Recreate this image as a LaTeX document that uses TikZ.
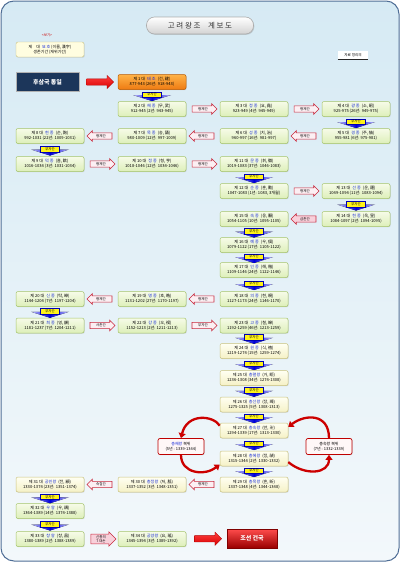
\documentclass[tikz,border=0pt]{standalone}
\usepackage{fontspec}
\setmainfont{Noto Sans CJK KR}
\usetikzlibrary{shapes.arrows,arrows.meta,shadows,calc}
\definecolor{kb}{HTML}{1A2ED8}
\definecolor{gT}{HTML}{F6FBE8}
\definecolor{gB}{HTML}{DDEFB9}
\definecolor{gD}{HTML}{A5C46A}
\definecolor{yT}{HTML}{FFFFF2}
\definecolor{yB}{HTML}{F5F1C6}
\definecolor{yD}{HTML}{C9C27E}
\definecolor{oT}{HTML}{FFB347}
\definecolor{oB}{HTML}{EE7A12}
\definecolor{oD}{HTML}{B85A00}
\definecolor{bgT}{HTML}{D6EAF4}
\definecolor{bgB}{HTML}{F3F8FB}
\definecolor{frm}{HTML}{4F6E96}
\definecolor{relD}{HTML}{C8283C}
\definecolor{relF}{HTML}{FCEFF3}
\definecolor{relP}{HTML}{F8D0DA}
\definecolor{navy}{HTML}{1C365A}
\tikzset{
  kbase/.style={rectangle, rounded corners=2pt, minimum width=68pt, minimum height=15pt, inner sep=0pt, align=center, font=\fontsize{4.1}{5}\selectfont, line width=0.5pt, drop shadow={shadow xshift=0.7pt, shadow yshift=-0.7pt, opacity=0.25}},
  gbox/.style={kbase, draw=gD, top color=gT, bottom color=gB},
  ybox/.style={kbase, draw=yD, top color=yT, bottom color=yB},
  obox/.style={kbase, draw=oD, top color=oT, bottom color=oB},
  relR/.style={single arrow, draw=relD, fill=relF, line width=0.6pt, minimum height=25pt, single arrow head extend=2.2pt, inner xsep=1pt, inner ysep=1.2pt, font=\fontsize{3.5}{4}\selectfont, align=center},
  relL/.style={relR, shape border rotate=180},
  bzlab/.style={rectangle, draw=blue!70!black, line width=0.3pt, fill=yellow!90!white, minimum width=19pt, minimum height=5.5pt, inner sep=0pt, font=\fontsize{3.4}{4}\selectfont},
  bzfill/.style={left color=blue!25, right color=blue!25, middle color=blue!85!black},
  curv/.style={draw=red!80!black, line width=2.3pt, -{Triangle[length=5pt,width=7pt]}},
  bokwi/.style={rectangle, rounded corners=2pt, draw=red!75!black, line width=0.7pt, fill=red!3, minimum width=46pt, minimum height=16pt, inner sep=0pt, align=center, font=\fontsize{4}{5}\selectfont, drop shadow={shadow xshift=0.7pt, shadow yshift=-0.7pt, opacity=0.25}},
  bigarr/.style={single arrow, top color=red!75, bottom color=red!85!black, draw=red!70!black, line width=0.3pt, minimum height=27pt, single arrow head extend=3.5pt, inner sep=3pt}
}
\newcommand\kg[8]{\node[#1] (#2) at (#3,#4) {제 #5 대\enspace{\color{kb}#6}\enspace(#7)\\#8};}
\newcommand\bzg[3]{%
  \coordinate (#1c) at ($(#2.south)!.5!(#3.north)$);
  \fill[bzfill] ([shift={(-19,-0.5)}]#1c) -- ([shift={(19,-0.5)}]#1c) -- ([shift={(0,5.5)}]#1c) -- cycle;
  \node[bzlab] (#1) at ([shift={(0,-1)}]#1c) {부자간};}
\newcommand\rel[5]{\node[#1] (#2) at ($(#3.east)!.5!(#4.west)$) {#5};}
\newcommand\rell[5]{\node[#1] (#2) at ($(#3.west)!.5!(#4.east)$) {#5};}
\begin{document}
\begin{tikzpicture}[x=1pt,y=-1pt]
\useasboundingbox (0,0) rectangle (400,562);
\draw[draw=frm, line width=1pt, rounded corners=13pt, top color=bgT, bottom color=bgB] (1,1) rectangle (399,561);
% title
\node[rectangle, rounded corners=8pt, minimum width=107pt, minimum height=17pt, top color=white, bottom color=gray!35, draw=gray!65, line width=0.6pt, font=\fontsize{7.5}{8}\selectfont, text=black!80, drop shadow={shadow xshift=0.8pt, shadow yshift=-0.8pt, opacity=0.3}] (title) at (200,25.5) {고 려 왕 조\quad 계 보 도};
% legend
\node[font=\fontsize{3.5}{4}\selectfont, text=red!80!black] (bogi) at (47,35.5) {<보기>};
\node[rectangle, rounded corners=2pt, minimum width=68pt, minimum height=15pt, inner sep=0pt, align=center, font=\fontsize{4}{5}\selectfont, draw=yD, fill=yellow!12, drop shadow={shadow xshift=0.7pt, shadow yshift=-0.7pt, opacity=0.25}] (legend) at (50,49.5) {제\quad 대\enspace{\color{kb}묘 호} (이름, 漢字)\\생존기간 (재위기간)};
\node[font=\fontsize{3.6}{4}\selectfont, fill=white, minimum width=30pt, minimum height=9pt, inner sep=0pt] (note) at (353,55) {자료 정리의};
\draw[line width=1.2pt, black!85] (note.south west) -- (note.south east);
% unification
\node[rectangle, fill=navy, draw=gray!60, line width=0.8pt, minimum width=63pt, minimum height=19pt, text=white, font=\bfseries\fontsize{6}{7}\selectfont, drop shadow={shadow xshift=0.8pt, shadow yshift=-0.8pt, opacity=0.3}] (hs) at (47.5,82) {후삼국 통일};
\kg{obox}{k1}{152}{82}{1}{태 조}{건, 建}{877-943 (26년: 918-943)}
\node[bigarr] (a1) at ($(hs.east)!.5!(k1.west)$) {};
% kings
\kg{gbox}{k2}{152}{109}{2}{혜 종}{무, 武}{912-945 (2년: 943-945)}
\kg{gbox}{k3}{254}{109}{3}{정 종}{요, 堯}{923-949 (4년: 945-949)}
\kg{gbox}{k4}{356}{109}{4}{광 종}{소, 昭}{925-975 (26년: 949-975)}
\kg{gbox}{k5}{356}{136}{5}{경 종}{주, 伷}{955-981 (6년: 975-981)}
\kg{gbox}{k6}{254}{136}{6}{성 종}{치, 治}{960-997 (16년: 981-997)}
\kg{gbox}{k7}{152}{136}{7}{목 종}{송, 誦}{980-1009 (12년: 997-1009)}
\kg{gbox}{k8}{50}{136}{8}{현 종}{순, 詢}{992-1031 (22년: 1009-1031)}
\kg{gbox}{k9}{50}{164}{9}{덕 종}{흠, 欽}{1016-1034 (3년: 1031-1034)}
\kg{gbox}{k10}{152}{164}{10}{정 종}{형, 亨}{1018-1046 (12년: 1034-1046)}
\kg{gbox}{k11}{254}{164}{11}{문 종}{휘, 徽}{1019-1083 (37년: 1046-1083)}
\kg{gbox}{k12}{254}{191}{12}{순 종}{훈, 勳}{1047-1083 (1년: 1083, 3개월)}
\kg{gbox}{k13}{356}{191}{13}{선 종}{운, 運}{1049-1094 (11년: 1083-1094)}
\kg{gbox}{k14}{356}{219}{14}{헌 종}{욱, 昱}{1084-1097 (2년: 1094-1095)}
\kg{gbox}{k15}{254}{219}{15}{숙 종}{옹, 顒}{1054-1105 (10년: 1095-1105)}
\kg{gbox}{k16}{254}{245}{16}{예 종}{우, 俁}{1079-1122 (17년: 1105-1122)}
\kg{gbox}{k17}{254}{270}{17}{인 종}{해, 楷}{1109-1146 (24년: 1122-1146)}
\kg{gbox}{k18}{254}{299}{18}{의 종}{현, 晛}{1127-1173 (24년: 1146-1170)}
\kg{gbox}{k19}{152}{299}{19}{명 종}{호, 晧}{1131-1202 (27년: 1170-1197)}
\kg{gbox}{k20}{50}{299}{20}{신 종}{탁, 晫}{1144-1204 (7년: 1197-1204)}
\kg{gbox}{k21}{50}{325.5}{21}{희 종}{영, 韺}{1181-1237 (7년: 1204-1211)}
\kg{gbox}{k22}{152}{325.5}{22}{강 종}{오, 祦}{1152-1213 (2년: 1211-1213)}
\kg{gbox}{k23}{254}{325.5}{23}{고 종}{철, 皞}{1192-1259 (46년: 1213-1259)}
\kg{ybox}{k24}{254}{351}{24}{원 종}{식, 禃}{1219-1274 (15년: 1259-1274)}
\kg{ybox}{k25}{254}{378}{25}{충렬왕}{거, 昛}{1236-1308 (34년: 1274-1308)}
\kg{ybox}{k26}{254}{404.5}{26}{충선왕}{장, 璋}{1275-1325 (5년: 1308-1313)}
\kg{ybox}{k27}{254}{430.5}{27}{충숙왕}{만, 卍}{1294-1339 (17년: 1313-1330)}
\kg{ybox}{k28}{254}{458.5}{28}{충혜왕}{정, 禎}{1315-1344 (2년: 1330-1332)}
\kg{ybox}{k29}{254}{484.5}{29}{충목왕}{흔, 昕}{1337-1348 (4년: 1344-1348)}
\kg{ybox}{k30}{152}{484.5}{30}{충정왕}{저, 胝}{1337-1352 (3년: 1348-1351)}
\kg{ybox}{k31}{50}{484.5}{31}{공민왕}{전, 顓}{1330-1374 (23년: 1351-1374)}
\kg{gbox}{k32}{50}{511}{32}{우 왕}{우, 禑}{1364-1389 (14년: 1374-1388)}
\kg{gbox}{k33}{50}{539}{33}{창 왕}{창, 昌}{1380-1389 (2년: 1388-1389)}
\kg{gbox}{k34}{152}{539}{34}{공양왕}{요, 瑤}{1345-1394 (3년: 1389-1392)}
% restorations
\node[bokwi] (chb) at (181,446.5) {{\color{kb}충혜왕} 복위\\(5년 : 1339-1344)};
\node[bokwi] (csb) at (329,446.5) {충숙왕 복위\\(7년 : 1332-1339)};
\draw[curv] (k27.172) .. controls (213,415) and (187,413) .. (chb.north);
\draw[curv] (chb.south) .. controls (181,474) and (205,476) .. (k28.190);
\draw[curv] (k28.354) .. controls (305,476) and (329,474) .. (csb.south);
\draw[curv] (csb.north) .. controls (329,413) and (305,414) .. (k27.6);
% father-son connectors
\bzg{b1}{k1}{k2}
\bzg{b4}{k4}{k5}
\bzg{b8}{k8}{k9}
\bzg{b11}{k11}{k12}
\bzg{b13}{k13}{k14}
\bzg{b15}{k15}{k16}
\bzg{b16}{k16}{k17}
\bzg{b17}{k17}{k18}
\bzg{b20}{k20}{k21}
\bzg{b23}{k23}{k24}
\bzg{b24}{k24}{k25}
\bzg{b25}{k25}{k26}
\bzg{b26}{k26}{k27}
\bzg{b27}{k27}{k28}
\bzg{b28}{k28}{k29}
\bzg{b31}{k31}{k32}
\bzg{b32}{k32}{k33}
% horizontal relations
\rel{relR}{r23}{k2}{k3}{형제간}
\rel{relR}{r34}{k3}{k4}{형제간}
\rell{relL}{r56}{k5}{k6}{형제간}
\rell{relL}{r67}{k6}{k7}{형제간}
\rell{relL}{r78}{k7}{k8}{형제간}
\rel{relR}{r910}{k9}{k10}{형제간}
\rel{relR}{r1011}{k10}{k11}{형제간}
\rel{relR}{r1213}{k12}{k13}{형제간}
\rell{relL,fill=relP}{r1415}{k14}{k15}{삼촌간}
\rell{relL}{r1819}{k18}{k19}{형제간}
\rell{relL}{r1920}{k19}{k20}{형제간}
\rel{relR}{r2122}{k21}{k22}{사촌간}
\rel{relR}{r2223}{k22}{k23}{부자간}
\rell{relL}{r2930}{k29}{k30}{형제간}
\rell{relL}{r3031}{k30}{k31}{숙질간}
\rel{relR,fill=relP,inner ysep=1pt}{r3334}{k33}{k34}{신종의\\7 대손}
% Joseon
\node[rectangle, top color=red!70, bottom color=red!60!black, draw=red!50!black, line width=0.4pt, minimum width=50pt, minimum height=19pt, text=white, font=\bfseries\fontsize{6}{7}\selectfont, drop shadow={shadow xshift=0.8pt, shadow yshift=-0.8pt, opacity=0.3}] (js) at (252,538.5) {조선 건국};
\node[bigarr] (a2) at ($(k34.east)!.5!(js.west)$) {};
\end{tikzpicture}
\end{document}
